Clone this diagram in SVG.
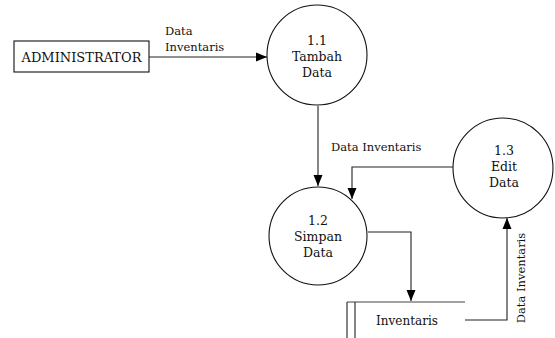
<svg xmlns="http://www.w3.org/2000/svg" width="555" height="338" viewBox="0 0 555 338">
<style>
text{font-family:"DejaVu Serif",serif;fill:#111;font-size:12.5px}
.c{text-anchor:middle}
.lb{font-size:11.5px}
.shape{fill:#fff;stroke:#111;stroke-width:1.1}
.ln{fill:none;stroke:#222;stroke-width:1.1}
</style>
<defs>
<marker id="ah" markerUnits="userSpaceOnUse" markerWidth="12" markerHeight="10" refX="11" refY="5" orient="auto">
<path d="M0,0.5 L11,5 L0,9.5 Z" fill="#000"/>
</marker>
</defs>
<rect width="555" height="338" fill="#fff"/>
<g id="connectors">
<line class="ln" x1="149" y1="57" x2="267" y2="57" marker-end="url(#ah)"/>
<line class="ln" x1="318" y1="106" x2="318" y2="186" marker-end="url(#ah)"/>
<polyline class="ln" points="453,167 352,167 352,199" marker-end="url(#ah)"/>
<polyline class="ln" points="368,232 411,232 411,301" marker-end="url(#ah)"/>
<polyline class="ln" points="465,320 507,320 507,218" marker-end="url(#ah)"/>
<text class="lb" x="165" y="35">Data</text>
<text class="lb" x="165" y="51">Inventaris</text>
<text class="lb" x="331" y="151">Data Inventaris</text>
<text class="lb c" transform="translate(525,278) rotate(-90)">Data Inventaris</text>
</g>
<g id="administrator">
<rect class="shape" x="14" y="41" width="135" height="31"/>
<text class="c" x="81.5" y="61.5" style="font-size:13px">ADMINISTRATOR</text>
</g>
<g id="p1-1">
<circle class="shape" cx="317" cy="55" r="50"/>
<text class="c" x="317" y="45">1.1</text>
<text class="c" x="317" y="61">Tambah</text>
<text class="c" x="317" y="77">Data</text>
</g>
<g id="p1-2">
<circle class="shape" cx="318" cy="236" r="49"/>
<text class="c" x="318" y="225">1.2</text>
<text class="c" x="318" y="241">Simpan</text>
<text class="c" x="318" y="257">Data</text>
</g>
<g id="p1-3">
<circle class="shape" cx="503" cy="168" r="50"/>
<text class="c" x="504" y="155">1.3</text>
<text class="c" x="504" y="171">Edit</text>
<text class="c" x="504" y="187">Data</text>
</g>
<g id="store-inventaris">
<line class="ln" x1="347" y1="302" x2="465" y2="302" style="stroke:#444"/>
<line class="ln" x1="347" y1="302" x2="347" y2="338"/>
<line class="ln" x1="355" y1="302" x2="355" y2="338"/>
<text class="c" x="407" y="325" style="font-size:12px">Inventaris</text>
</g>
</svg>
